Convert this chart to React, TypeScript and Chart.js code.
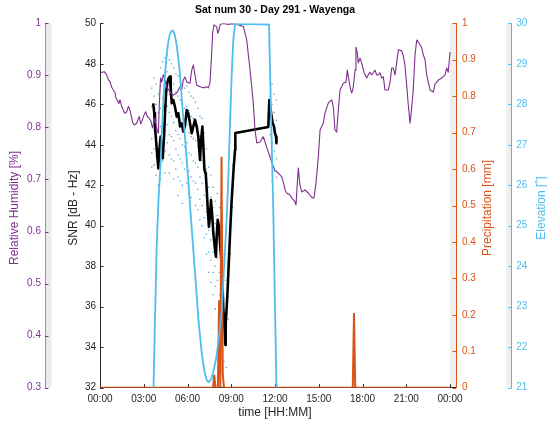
import React, { useEffect, useRef } from "react";
import { Chart, registerables } from "chart.js";

Chart.register(...registerables);

// ---------- text ----------
const titleText = "Sat num 30 - Day 291 - Wayenga";
const xAxisTitle = "time [HH:MM]";
const rhAxisTitle = "Relative Humidity [%]";
const snrAxisTitle = "SNR [dB - Hz]";
const precipAxisTitle = "Precipitation [mm]";
const elevAxisTitle = "Elevation [˚]";

// ---------- ticks ----------
const xTickHours = [0, 3, 6, 9, 12, 15, 18, 21, 24];
const rhTicks = [0.3, 0.4, 0.5, 0.6, 0.7, 0.8, 0.9, 1];
const snrTicks = [32, 34, 36, 38, 40, 42, 44, 46, 48, 50];
const precipTicks = [0, 0.1, 0.2, 0.3, 0.4, 0.5, 0.6, 0.7, 0.8, 0.9, 1];
const elevTicks = [21, 22, 23, 24, 25, 26, 27, 28, 29, 30];

// ---------- relative humidity ----------
const rhHours = [
  0.0, 0.29, 0.46, 0.57, 0.69, 0.8, 0.91, 1.03, 1.1, 1.21,
  1.3, 1.37, 1.49, 1.6, 1.71, 1.83, 1.94, 2.01, 2.13, 2.24,
  2.35, 2.52, 2.59, 2.69, 2.79, 2.9, 3.02, 3.13, 3.24, 3.36,
  3.48, 3.6, 3.77, 3.91, 4.0, 4.08, 4.15, 4.23, 4.34, 4.46,
  4.57, 4.8, 5.03, 5.26, 5.49, 5.6, 5.71, 5.83, 5.95, 6.17,
  6.29, 6.4, 6.51, 6.63, 6.86, 7.08, 7.32, 7.43, 7.54, 7.66,
  7.72, 7.82, 8.0, 8.07, 8.16, 8.23, 8.34, 8.57, 8.8, 9.03,
  9.37, 9.6, 9.83, 10.06, 10.29, 10.51, 10.63, 10.75, 10.97, 11.2,
  11.43, 11.66, 11.84, 12.0, 12.23, 12.46, 12.57, 12.69, 12.8, 13.03,
  13.15, 13.26, 13.37, 13.44, 13.53, 13.6, 13.71, 13.83, 14.06, 14.28,
  14.51, 14.67, 14.81, 14.97, 15.09, 15.31, 15.43, 15.66, 15.89, 16.0,
  16.11, 16.23, 16.34, 16.46, 16.68, 16.87, 16.96, 17.09, 17.19, 17.26,
  17.37, 17.49, 17.55, 17.64, 17.71, 17.83, 17.94, 18.1, 18.29, 18.4,
  18.51, 18.63, 18.74, 18.86, 18.97, 19.08, 19.2, 19.32, 19.43, 19.54,
  19.77, 19.89, 20.0, 20.11, 20.23, 20.35, 20.46, 20.69, 20.8, 20.91,
  21.03, 21.14, 21.26, 21.37, 21.48, 21.6, 21.72, 21.83, 22.06, 22.17,
  22.29, 22.4, 22.63, 22.86, 22.97, 23.2, 23.43, 23.66, 23.77, 23.88,
  24.0,
];
const rhValues = [
  0.905, 0.907, 0.901, 0.892, 0.888, 0.877, 0.872, 0.867, 0.856, 0.851,
  0.846, 0.853, 0.84, 0.833, 0.827, 0.83, 0.84, 0.837, 0.824, 0.809,
  0.805, 0.808, 0.814, 0.821, 0.807, 0.814, 0.824, 0.83, 0.821, 0.818,
  0.813, 0.799, 0.818, 0.795, 0.789, 0.853, 0.895, 0.887, 0.901, 0.891,
  0.878, 0.868, 0.862, 0.866, 0.878, 0.872, 0.891, 0.897, 0.887, 0.885,
  0.91, 0.92, 0.901, 0.881, 0.878, 0.876, 0.878, 0.876, 0.885, 0.943,
  0.981, 0.997, 0.993, 0.981, 0.987, 0.997, 0.999, 0.999, 0.998, 0.999,
  0.998, 0.996, 0.994, 0.968, 0.91, 0.847, 0.795, 0.77, 0.772, 0.782,
  0.762, 0.743, 0.728, 0.718, 0.712, 0.705, 0.695, 0.68, 0.674, 0.67,
  0.664, 0.661, 0.657, 0.651, 0.693, 0.722, 0.689, 0.676, 0.68, 0.674,
  0.666, 0.664, 0.693, 0.743, 0.795, 0.808, 0.828, 0.847, 0.853, 0.839,
  0.795, 0.791, 0.833, 0.872, 0.885, 0.887, 0.91, 0.887, 0.872, 0.866,
  0.878, 0.91, 0.954, 0.943, 0.924, 0.933, 0.924, 0.906, 0.895, 0.901,
  0.906, 0.901, 0.905, 0.91, 0.901, 0.901, 0.905, 0.895, 0.897, 0.872,
  0.872, 0.887, 0.914, 0.914, 0.901, 0.926, 0.949, 0.947, 0.937, 0.92,
  0.881, 0.843, 0.808, 0.837, 0.872, 0.939, 0.968, 0.964, 0.953, 0.939,
  0.93, 0.901, 0.872, 0.868, 0.883, 0.891, 0.895, 0.901, 0.914, 0.906,
  0.945,
];

// ---------- SNR (smoothed, black) ----------
const snrHours = [
  3.65, 3.72, 3.77, 3.84, 3.93, 4.0, 4.07, 4.16, 4.23, 4.3,
  4.39, 4.46, 4.53, 4.61, 4.71, 4.8, 4.85, 4.92, 5.03, 5.14,
  5.26, 5.37, 5.49, 5.6, 5.71, 5.83, 5.95, 6.05, 6.17, 6.29,
  6.4, 6.51, 6.63, 6.74, 6.86, 6.93, 7.02, 7.09, 7.16, 7.25,
  7.32, 7.39, 7.47, 7.54, 7.61, 7.7, 7.77, 7.89, 7.95, 8.0,
  8.07, 8.16, 8.23, 8.3, 8.35, 8.41, 8.45, 8.52, 8.57, 8.6,
  8.62, 8.69, 8.75, 8.8, 8.87, 8.94, 9.03, 9.1, 9.17, 9.26,
  9.28, 11.54, 11.61, 11.7, 11.77, 11.84, 11.93, 12.0, 12.07, 12.1,
];
const snrValues = [
  46.05, 45.56, 44.9, 44.24, 43.41, 42.84, 43.74, 44.4, 43.74, 43.33,
  44.4, 45.56, 46.55, 47.04, 47.29, 47.37, 46.71, 46.05, 46.21, 45.88,
  45.39, 45.56, 44.9, 45.06, 44.65, 44.98, 45.72, 45.56, 45.06, 44.57,
  44.9, 45.23, 44.9, 44.4, 43.25, 44.24, 44.9, 43.91, 42.76, 42.59,
  41.77, 40.78, 39.95, 40.45, 41.27, 40.45, 39.63, 38.8, 38.47, 39.46,
  40.29, 39.95, 39.13, 38.47, 37.82, 36.83, 36.0, 35.18, 34.52, 34.11,
  35.18, 36.0, 36.83, 37.65, 38.8, 39.95, 41.27, 42.1, 42.92, 43.74,
  44.58, 44.88, 46.21, 45.72, 45.39, 45.06, 44.9, 44.57, 44.4, 44.08,
];

// ---------- SNR raw samples (blue dots): [hour, values] ----------
const snrDotColumns: [number, number[]][] = [
  [3.55, [46.8, 45.9, 45.1, 44.3, 43.6, 42.9]],
  [3.7, [47.3, 46.4, 45.5, 44.7, 43.8, 43.0]],
  [3.85, [47.0, 46.0, 45.2, 44.2, 43.4, 42.5]],
  [4.0, [46.5, 45.6, 44.6, 43.6, 42.8, 42.0]],
  [4.15, [47.8, 46.9, 45.8, 44.9, 43.9, 43.1, 42.3]],
  [4.3, [48.1, 47.2, 46.3, 45.2, 44.1, 43.2]],
  [4.45, [48.3, 47.5, 46.6, 45.6, 44.7, 43.7, 42.6]],
  [4.6, [48.4, 47.6, 46.8, 45.9, 45.0, 44.1]],
  [4.75, [48.2, 47.4, 46.5, 45.6, 44.5, 43.5, 42.6]],
  [4.9, [48.0, 47.1, 46.3, 45.4, 44.4, 43.3]],
  [5.05, [47.8, 47.0, 46.1, 45.1, 44.2, 43.2, 42.3]],
  [5.2, [47.5, 46.6, 45.7, 44.7, 43.8, 42.8]],
  [5.35, [47.4, 46.4, 45.5, 44.5, 43.5, 42.4, 41.5]],
  [5.5, [47.1, 46.2, 45.2, 44.3, 43.3, 42.2]],
  [5.65, [47.0, 46.0, 45.0, 44.0, 43.1, 42.0, 41.1]],
  [5.8, [46.8, 45.8, 44.9, 43.9, 42.8]],
  [5.95, [46.9, 45.9, 45.0, 44.1, 43.0, 42.1]],
  [6.1, [46.6, 45.7, 44.6, 43.6, 42.7, 41.6]],
  [6.25, [46.4, 45.4, 44.4, 43.5, 42.4, 41.4]],
  [6.4, [46.3, 45.3, 44.3, 43.2, 42.2]],
  [6.55, [46.1, 45.2, 44.2, 43.1, 42.1, 41.0]],
  [6.7, [45.8, 44.9, 43.9, 42.9, 41.8, 40.8]],
  [6.85, [45.4, 44.4, 43.4, 42.4, 41.3, 40.3]],
  [7.0, [45.3, 44.3, 43.2, 42.1, 41.0, 40.0]],
  [7.15, [44.6, 43.6, 42.6, 41.5, 40.4, 39.4]],
  [7.3, [43.8, 42.8, 41.8, 40.7, 39.6, 38.6]],
  [7.45, [42.9, 41.9, 40.8, 39.8, 38.7, 37.7]],
  [7.6, [42.5, 41.4, 40.4, 39.3, 38.3, 37.2]],
  [7.75, [41.9, 40.9, 39.8, 38.7, 37.7, 36.6]],
  [7.9, [41.2, 40.1, 39.1, 38.0, 37.0, 35.9]],
  [8.05, [41.6, 40.5, 39.4, 38.4, 37.3]],
  [8.2, [40.9, 39.8, 38.8, 37.7, 36.6, 35.6]],
  [8.35, [40.0, 38.9, 37.8, 36.8, 35.7, 34.6]],
  [8.5, [38.6, 37.5, 36.4, 35.4, 34.3, 33.3]],
  [8.65, [37.3, 36.2, 35.2, 34.1, 33.0]],
  [8.8, [38.6, 37.6, 36.5, 35.4]],
  [8.95, [40.8, 39.7, 38.6]],
  [9.1, [43.0, 41.9, 40.9]],
  [11.65, [47.3, 46.4, 45.4, 44.5, 43.5]],
  [11.8, [47.0, 46.0, 45.0, 44.1, 43.1, 42.2]],
  [11.95, [46.5, 45.6, 44.6, 43.7, 42.7]],
  [12.1, [46.2, 45.2, 44.3, 43.3, 42.4]],
];

// ---------- precipitation ----------
const precipHours = [0, 7.75, 7.833, 7.917, 8.083, 8.167, 8.25, 8.333, 8.417, 8.5, 17.333, 17.417, 17.5, 24];
const precipValues = [0, 0, 0.035, 0, 0, 0.24, 0, 0.634, 0.04, 0, 0, 0.205, 0, 0];

// ---------- elevation ----------
const elevHours = [
  3.67, 3.77, 3.89, 4.01, 4.15, 4.25, 4.35, 4.46, 4.57, 4.68,
  4.8, 4.92, 5.03, 5.14, 5.26, 5.37, 5.49, 5.6, 5.71, 5.83,
  5.95, 6.05, 6.17, 6.29, 6.4, 6.51, 6.63, 6.74, 6.86, 6.97,
  7.09, 7.2, 7.32, 7.43, 7.54, 7.66, 7.77, 7.89, 8.0, 8.16,
  8.35, 8.45, 8.57, 8.69, 8.8, 8.91, 9.03, 9.14, 9.26, 10.42,
  11.59, 11.88, 12.1,
];
const elevValues = [
  21.0, 22.67, 24.52, 25.64, 26.5, 27.36, 28.11, 28.72, 29.22, 29.54,
  29.74, 29.82, 29.81, 29.69, 29.46, 29.14, 28.72, 28.18, 27.66, 27.19,
  26.62, 26.13, 25.51, 24.94, 24.4, 23.86, 23.29, 22.72, 22.28, 21.88,
  21.56, 21.34, 21.19, 21.14, 21.17, 21.24, 21.39, 21.59, 21.81, 22.25,
  22.92, 23.59, 24.4, 25.19, 26.18, 27.49, 28.72, 29.59, 29.98, 29.98,
  29.97, 25.39, 21.0,
];

// ---------- styling / layout ----------
const FONT = '"Liberation Sans", Arial, Helvetica, sans-serif';
const C_RH = "rgb(126,47,142)";
const C_PR = "rgb(217,83,25)";
const C_EL = "rgb(77,190,238)";
const C_AX = "#262626";
const C_DOT = "rgba(55,150,215,0.9)";
const W = 547;
const H = 423;
const X_MAX = 24.411; // main plot box extends a little past 24:00 (grey band)

const fmtHour = (v: number) => String(Math.round(v) % 24).padStart(2, "0") + ":00";
const fmtDec = (v: number) => (v === 0 || v === 1 ? String(v) : v.toFixed(1));

const setTicks = (list: number[]) => (s: any) => {
  s.ticks = list.map((value) => ({ value }));
};

const decorPlugin = {
  id: "decor",
  beforeDraw(chart: any) {
    const { ctx, chartArea: a, scales } = chart;
    ctx.save();
    ctx.fillStyle = "#ffffff";
    ctx.fillRect(0, 0, chart.width, chart.height);
    const band = (x0: number, x1: number, color: string) => {
      ctx.fillStyle = color;
      ctx.fillRect(x0, a.top, x1 - x0, a.bottom - a.top);
    };
    band(scales.yRH.right, scales.yRH.right + 6.5, "rgb(236,233,240)");
    band(scales.yPrecip.left - 6, scales.yPrecip.left, "rgb(238,238,238)");
    band(scales.yElev.left - 5.2, scales.yElev.left, "rgb(238,238,238)");
    ctx.restore();
  },
  beforeDatasetsDraw(chart: any) {
    const { ctx, chartArea: a, scales } = chart;
    ctx.save();
    ctx.lineWidth = 1;
    const yMarks = (scale: any, x0: number, dir: number, color: string) => {
      ctx.strokeStyle = color;
      for (const t of scale.ticks) {
        const y = Math.round(scale.getPixelForValue(t.value)) + 0.5;
        ctx.beginPath();
        ctx.moveTo(x0, y);
        ctx.lineTo(x0 + dir * 3.5, y);
        ctx.stroke();
      }
    };
    yMarks(scales.yRH, scales.yRH.right, 1, C_RH);
    yMarks(scales.ySNR, scales.ySNR.right, 1, C_AX);
    yMarks(scales.yPrecip, scales.yPrecip.left, -1, C_PR);
    yMarks(scales.yElev, scales.yElev.left, -1, C_EL);
    ctx.strokeStyle = C_AX;
    for (const t of scales.x.ticks) {
      const x = Math.round(scales.x.getPixelForValue(t.value)) + 0.5;
      ctx.beginPath();
      ctx.moveTo(x, a.bottom);
      ctx.lineTo(x, a.bottom - 3.5);
      ctx.stroke();
    }
    ctx.restore();
  },
  afterDraw(chart: any) {
    const { ctx, chartArea: a, scales } = chart;
    const cx = (scales.x.getPixelForValue(0) + scales.x.getPixelForValue(24)) / 2;
    const cy = (a.top + a.bottom) / 2 + 2.5;
    ctx.save();
    ctx.textAlign = "center";
    ctx.textBaseline = "middle";
    ctx.fillStyle = "#000";
    ctx.font = `bold 10.5px ${FONT}`;
    ctx.fillText(titleText, cx, 10.5);
    ctx.fillStyle = C_AX;
    ctx.font = `12px ${FONT}`;
    ctx.fillText(xAxisTitle, cx, 413);
    const vText = (text: string, x: number, color: string) => {
      ctx.save();
      ctx.translate(x, cy);
      ctx.rotate(-Math.PI / 2);
      ctx.fillStyle = color;
      ctx.fillText(text, 0, 0);
      ctx.restore();
    };
    vText(rhAxisTitle, scales.yRH.left + 15, C_RH);
    vText(snrAxisTitle, scales.ySNR.left + 29, C_AX);
    vText(precipAxisTitle, scales.yPrecip.left + 32, C_PR);
    vText(elevAxisTitle, scales.yElev.left + 30, C_EL);
    ctx.restore();
  },
};

const tickFont = { family: FONT, size: 10 };

export default function App() {
  const ref = useRef<HTMLCanvasElement | null>(null);

  useEffect(() => {
    if (!ref.current) return;
    const pts = (xs: number[], ys: number[]) => xs.map((x, i) => ({ x, y: ys[i] }));
    const dots: { x: number; y: number }[] = [];
    snrDotColumns.forEach(([h, vals]) => vals.forEach((v) => dots.push({ x: h, y: v })));

    const chart = new Chart(ref.current, {
      type: "line",
      data: {
        datasets: [
          {
            label: "Elevation",
            data: pts(elevHours, elevValues),
            yAxisID: "yElev",
            borderColor: C_EL,
            borderWidth: 1.8,
            pointRadius: 0,
            borderJoinStyle: "round",
            order: 1,
          },
          {
            label: "Precipitation",
            data: pts(precipHours, precipValues),
            yAxisID: "yPrecip",
            borderColor: C_PR,
            borderWidth: 2,
            pointRadius: 0,
            order: 2,
          },
          {
            label: "Relative Humidity",
            data: pts(rhHours, rhValues),
            yAxisID: "yRH",
            borderColor: C_RH,
            borderWidth: 1.1,
            pointRadius: 0,
            borderJoinStyle: "round",
            order: 3,
          },
          {
            label: "SNR",
            data: pts(snrHours, snrValues),
            yAxisID: "ySNR",
            borderColor: "#000",
            borderWidth: 2.6,
            pointRadius: 0,
            borderJoinStyle: "round",
            order: 4,
          },
          {
            type: "scatter",
            label: "SNR raw",
            data: dots,
            yAxisID: "ySNR",
            showLine: false,
            pointStyle: "rect",
            pointRadius: 0.9,
            pointBorderWidth: 0,
            backgroundColor: C_DOT,
            borderColor: C_DOT,
            order: 5,
          } as any,
        ],
      },
      options: {
        responsive: false,
        maintainAspectRatio: false,
        animation: false,
        devicePixelRatio: 1,
        layout: { padding: { top: 23.3, left: 0, right: 0, bottom: 0 } },
        plugins: { legend: { display: false }, tooltip: { enabled: false }, title: { display: false } },
        scales: {
          x: {
            type: "linear",
            position: "bottom",
            min: 0,
            max: X_MAX,
            afterBuildTicks: setTicks(xTickHours),
            afterFit: (s: any) => {
              s.height = 35.3;
            },
            grid: { display: false, drawTicks: false },
            border: { display: true, color: C_AX },
            ticks: { callback: (v: any) => fmtHour(Number(v)), font: tickFont, color: C_AX, padding: 6, maxRotation: 0, autoSkip: false },
          },
          yRH: {
            type: "linear",
            position: "left",
            weight: 2,
            min: 0.3,
            max: 1,
            afterBuildTicks: setTicks(rhTicks),
            afterFit: (s: any) => {
              s.width = 45;
            },
            grid: { display: false, drawTicks: false },
            border: { display: true, color: "rgba(126,47,142,0.55)" },
            ticks: { callback: (v: any) => fmtDec(Number(v)), font: tickFont, color: C_RH, padding: 4 },
          },
          ySNR: {
            type: "linear",
            position: "left",
            weight: 1,
            min: 32,
            max: 50,
            afterBuildTicks: setTicks(snrTicks),
            afterFit: (s: any) => {
              s.width = 55;
            },
            grid: { display: false, drawTicks: false },
            border: { display: true, color: C_AX },
            ticks: { callback: (v: any) => String(v), font: tickFont, color: C_AX, padding: 4 },
          },
          yPrecip: {
            type: "linear",
            position: "right",
            weight: 1,
            min: 0,
            max: 1,
            afterBuildTicks: setTicks(precipTicks),
            afterFit: (s: any) => {
              s.width = 55.7;
            },
            grid: { display: false, drawTicks: false },
            border: { display: true, color: C_PR },
            ticks: { callback: (v: any) => fmtDec(Number(v)), font: tickFont, color: C_PR, padding: 6 },
          },
          yElev: {
            type: "linear",
            position: "right",
            weight: 2,
            min: 21,
            max: 30,
            afterBuildTicks: setTicks(elevTicks),
            afterFit: (s: any) => {
              s.width = 35.3;
            },
            grid: { display: false, drawTicks: false },
            border: { display: true, color: C_EL },
            ticks: { callback: (v: any) => String(v), font: tickFont, color: C_EL, padding: 4.5 },
          },
        },
      } as any,
      plugins: [decorPlugin],
    });
    return () => chart.destroy();
  }, []);

  return (
    <div style={{ position: "fixed", left: 0, top: 0, width: W, height: H, background: "#fff" }}>
      <canvas ref={ref} width={W} height={H} style={{ display: "block", width: W, height: H }} />
    </div>
  );
}
